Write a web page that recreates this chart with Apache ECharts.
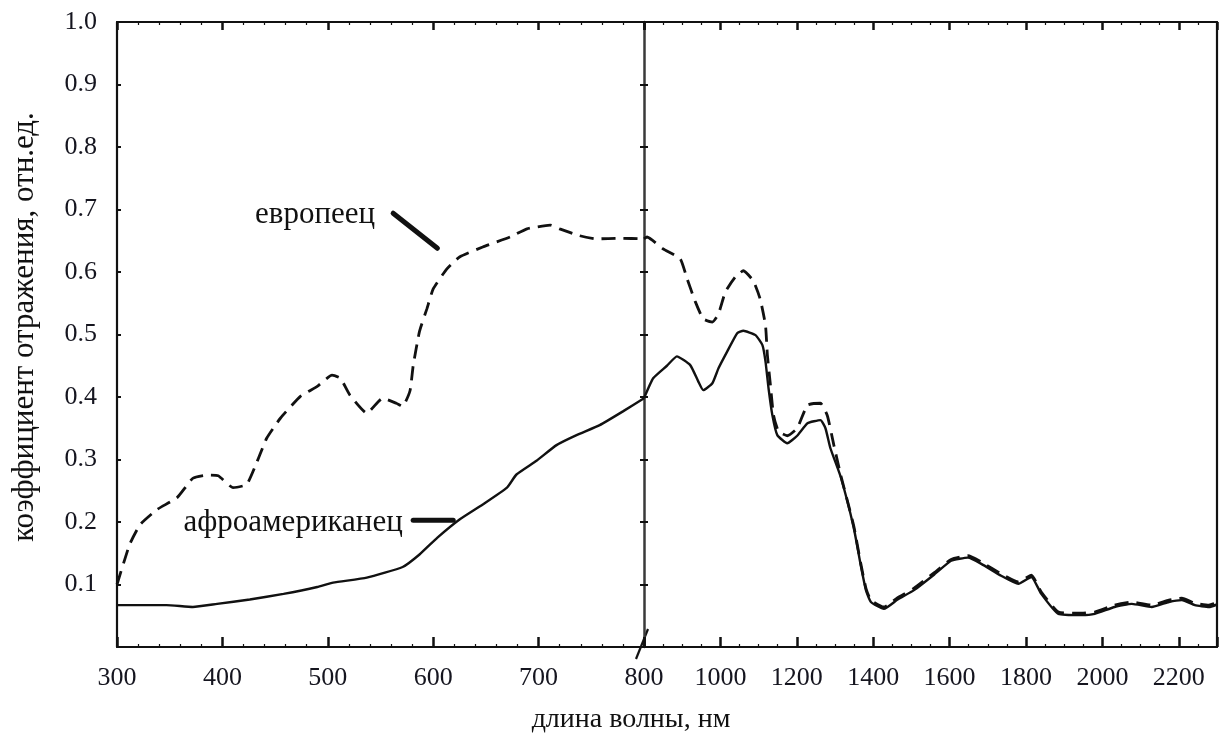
<!DOCTYPE html>
<html>
<head>
<meta charset="utf-8">
<script src="https://cdn.jsdelivr.net/npm/echarts@6/dist/echarts.min.js"></script>
<style>
  html, body { margin: 0; padding: 0; background: #ffffff; }
  #chart { width: 1229px; height: 740px; }
</style>
</head>
<body>
<div id="chart"></div>
<script>
// Diffuse reflectance spectra of skin, wavelength in nm
const europeanNm = [300, 312, 322, 338, 357, 372, 385, 396, 410, 423,
  433, 442, 455, 474, 490, 504, 512, 521, 537, 552,
  565, 571, 578, 581, 587, 594, 600, 613, 625, 647,
  673, 689, 711, 720, 739, 755, 777, 800,
  808, 850, 895, 913, 934, 955, 979, 995, 1013, 1039,
  1060, 1086, 1104, 1118, 1123, 1131, 1139, 1152, 1175, 1201,
  1228, 1262, 1280, 1297, 1315, 1349, 1367, 1381, 1394, 1428,
  1464, 1507, 1560, 1604, 1648, 1683, 1735, 1780, 1814, 1840,
  1885, 1945, 1980, 2032, 2077, 2129, 2174, 2208, 2242, 2279, 2300];
const europeanR = [0.10, 0.164, 0.196, 0.22, 0.239, 0.27, 0.275, 0.274, 0.255, 0.26,
  0.297, 0.334, 0.366, 0.401, 0.417, 0.435, 0.43, 0.403, 0.374, 0.398,
  0.39, 0.385, 0.41, 0.45, 0.505, 0.541, 0.573, 0.605, 0.624, 0.64,
  0.656, 0.669, 0.675, 0.669, 0.658, 0.653, 0.654, 0.653,
  0.656, 0.637, 0.621, 0.589, 0.553, 0.525, 0.52, 0.533, 0.568, 0.592,
  0.602, 0.586, 0.557, 0.515, 0.467, 0.419, 0.371, 0.345, 0.338, 0.35,
  0.387, 0.39, 0.37, 0.323, 0.275, 0.194, 0.135, 0.094, 0.075, 0.064,
  0.079, 0.094, 0.119, 0.14, 0.146, 0.136, 0.117, 0.104, 0.115, 0.088,
  0.056, 0.054, 0.056, 0.067, 0.072, 0.067, 0.075, 0.078, 0.07, 0.067, 0.071];

const africanNm = [300, 347, 372, 395, 426, 458, 490, 505, 537, 571,
  587, 604, 625, 647, 670, 679, 698, 717, 736, 758,
  780, 800, 824, 860, 886, 921, 942, 955, 979, 995,
  1018, 1044, 1060, 1092, 1110, 1118, 1126, 1136, 1149, 1175,
  1201, 1228, 1262, 1275, 1288, 1315, 1349, 1367, 1381, 1394,
  1428, 1464, 1507, 1560, 1604, 1648, 1683, 1735, 1780, 1814,
  1840, 1885, 1945, 1980, 2032, 2077, 2129, 2174, 2208, 2242, 2279, 2300];
const africanR = [0.067, 0.067, 0.064, 0.069, 0.076, 0.085, 0.096, 0.103, 0.111, 0.128,
  0.148, 0.175, 0.204, 0.228, 0.255, 0.276, 0.298, 0.323, 0.339, 0.355,
  0.377, 0.398, 0.43, 0.45, 0.465, 0.451, 0.425, 0.411, 0.422, 0.446,
  0.473, 0.502, 0.506, 0.499, 0.483, 0.457, 0.414, 0.371, 0.339, 0.326,
  0.338, 0.358, 0.363, 0.35, 0.318, 0.272, 0.191, 0.132, 0.091, 0.072,
  0.061, 0.076, 0.091, 0.116, 0.138, 0.143, 0.133, 0.114, 0.101, 0.112,
  0.085, 0.053, 0.051, 0.053, 0.064, 0.069, 0.064, 0.072, 0.075, 0.067, 0.064, 0.068];

// Axis scale: the wavelength axis is broken at 800 nm
const nmStart = 300;
const nmBreak = 800;
const nmEnd = 2300;
const leftStep = 100;
const rightStep = 200;
const rStep = 0.1;

const labelEuropean = 'европеец';
const labelAfrican = 'афроамериканец';
const xTitle = 'длина волны, нм';
const yTitle = 'коэффициент отражения, отн.ед.';

const serif = '"Liberation Serif", "DejaVu Serif", "Times New Roman", serif';
const ink = '#111111';

function segment(nm, r, lo, hi) {
  const out = [];
  for (let i = 0; i < nm.length; i++) {
    if (nm[i] >= lo && nm[i] <= hi) out.push([nm[i], r[i]]);
  }
  return out;
}

const chart = echarts.init(document.getElementById('chart'), null, { renderer: 'canvas' });

const labelStyle = { fontFamily: serif, fontSize: 26, color: '#15151f' };

function xAxisDef(grid, pos, min, max, step, minorSplit, withLabels) {
  return {
    type: 'value', gridIndex: grid, position: pos, min: min, max: max, interval: step,
    axisLine: { show: true, onZero: false, lineStyle: { color: ink, width: 2.2 } },
    axisTick: { show: true, inside: true, length: pos === 'bottom' ? 10 : 8, lineStyle: { color: ink, width: 2.5 } },
    minorTick: { show: true, splitNumber: minorSplit, length: 3, lineStyle: { color: ink, width: 1.2 } },
    splitLine: { show: false },
    axisLabel: withLabels ? Object.assign({
      show: true, margin: 18,
      formatter: function (v) {
        if (grid === 1 && (v === nmBreak || v === nmEnd)) return '';
        if (v % step !== 0) return '';
        return String(v);
      }
    }, labelStyle) : { show: false }
  };
}

function yAxisDef(grid, pos, opts) {
  return Object.assign({
    type: 'value', gridIndex: grid, position: pos, min: 0, max: 1, interval: rStep,
    axisLine: { show: true, onZero: false, lineStyle: { color: ink, width: 2.2 } },
    axisTick: { show: true, inside: true, length: 4, lineStyle: { color: ink, width: 2 } },
    splitLine: { show: false },
    axisLabel: { show: false }
  }, opts || {});
}

const option = {
  backgroundColor: '#ffffff',
  animation: false,
  grid: [
    { left: 117, top: 22, width: 527, height: 625 },
    { left: 644, top: 22, width: 573, height: 625 }
  ],
  xAxis: [
    xAxisDef(0, 'bottom', nmStart, nmBreak, leftStep, 5, true),
    xAxisDef(0, 'top', nmStart, nmBreak, leftStep, 5, false),
    xAxisDef(1, 'bottom', nmBreak, nmEnd, rightStep, 4, true),
    xAxisDef(1, 'top', nmBreak, nmEnd, rightStep, 4, false)
  ],
  yAxis: [
    yAxisDef(0, 'left', {
      axisLabel: Object.assign({
        show: true, margin: 20,
        formatter: function (v) { return v < 0.05 ? '' : v.toFixed(1); }
      }, labelStyle)
    }),
    yAxisDef(0, 'right', { axisLine: { show: true, onZero: false, lineStyle: { color: '#3a3a3a', width: 2.5 } } }),
    yAxisDef(1, 'left', { axisLine: { show: false } }),
    yAxisDef(1, 'right', { axisTick: { show: false } })
  ],
  series: [
    {
      name: labelEuropean, type: 'line', xAxisIndex: 0, yAxisIndex: 0,
      data: segment(europeanNm, europeanR, nmStart, nmBreak),
      showSymbol: false, smooth: 0.15,
      lineStyle: { color: ink, width: 2.8, type: [14, 8] }
    },
    {
      name: labelEuropean, type: 'line', xAxisIndex: 2, yAxisIndex: 2,
      data: segment(europeanNm, europeanR, nmBreak, nmEnd),
      showSymbol: false, smooth: 0.15,
      lineStyle: { color: ink, width: 2.8, type: [14, 8] }
    },
    {
      name: labelAfrican, type: 'line', xAxisIndex: 0, yAxisIndex: 0,
      data: segment(africanNm, africanR, nmStart, nmBreak),
      showSymbol: false, smooth: 0.15,
      lineStyle: { color: ink, width: 2.4 }
    },
    {
      name: labelAfrican, type: 'line', xAxisIndex: 2, yAxisIndex: 2,
      data: segment(africanNm, africanR, nmBreak, nmEnd),
      showSymbol: false, smooth: 0.15,
      lineStyle: { color: ink, width: 2.4 }
    }
  ]
};

chart.setOption(option);

// Annotations, axis titles and the break mark, placed through the axes
function px(grid, nm, r) { return chart.convertToPixel({ gridIndex: grid }, [nm, r]); }

const eTxt = px(0, 431, 0.691);
const eA = px(0, 562, 0.694), eB = px(0, 604, 0.638);
const aTxt = px(0, 363, 0.199);
const aA = px(0, 581, 0.203), aB = px(0, 619, 0.203);
const brk = px(1, nmBreak, 0);

chart.setOption({
  graphic: [
    { type: 'text', x: eTxt[0], y: eTxt[1],
      style: { text: labelEuropean, font: '31px ' + serif, fill: ink, align: 'left', verticalAlign: 'middle' } },
    { type: 'line', shape: { x1: eA[0], y1: eA[1], x2: eB[0], y2: eB[1] },
      style: { stroke: ink, lineWidth: 5, lineCap: 'round' } },
    { type: 'text', x: aTxt[0], y: aTxt[1],
      style: { text: labelAfrican, font: '31px ' + serif, fill: ink, align: 'left', verticalAlign: 'middle' } },
    { type: 'line', shape: { x1: aA[0], y1: aA[1], x2: aB[0], y2: aB[1] },
      style: { stroke: ink, lineWidth: 5, lineCap: 'round' } },
    { type: 'line', shape: { x1: brk[0] - 8, y1: brk[1] + 12, x2: brk[0] + 4, y2: brk[1] - 18 },
      style: { stroke: ink, lineWidth: 2.2 } },
    { type: 'text', x: 631, y: 720,
      style: { text: xTitle, font: '28px ' + serif, fill: ink, align: 'center', verticalAlign: 'middle' } },
    { type: 'text', x: 25, y: 327, rotation: Math.PI / 2,
      style: { text: yTitle, font: '31px ' + serif, fill: ink, align: 'center', verticalAlign: 'middle' } }
  ]
});
</script>
</body>
</html>
